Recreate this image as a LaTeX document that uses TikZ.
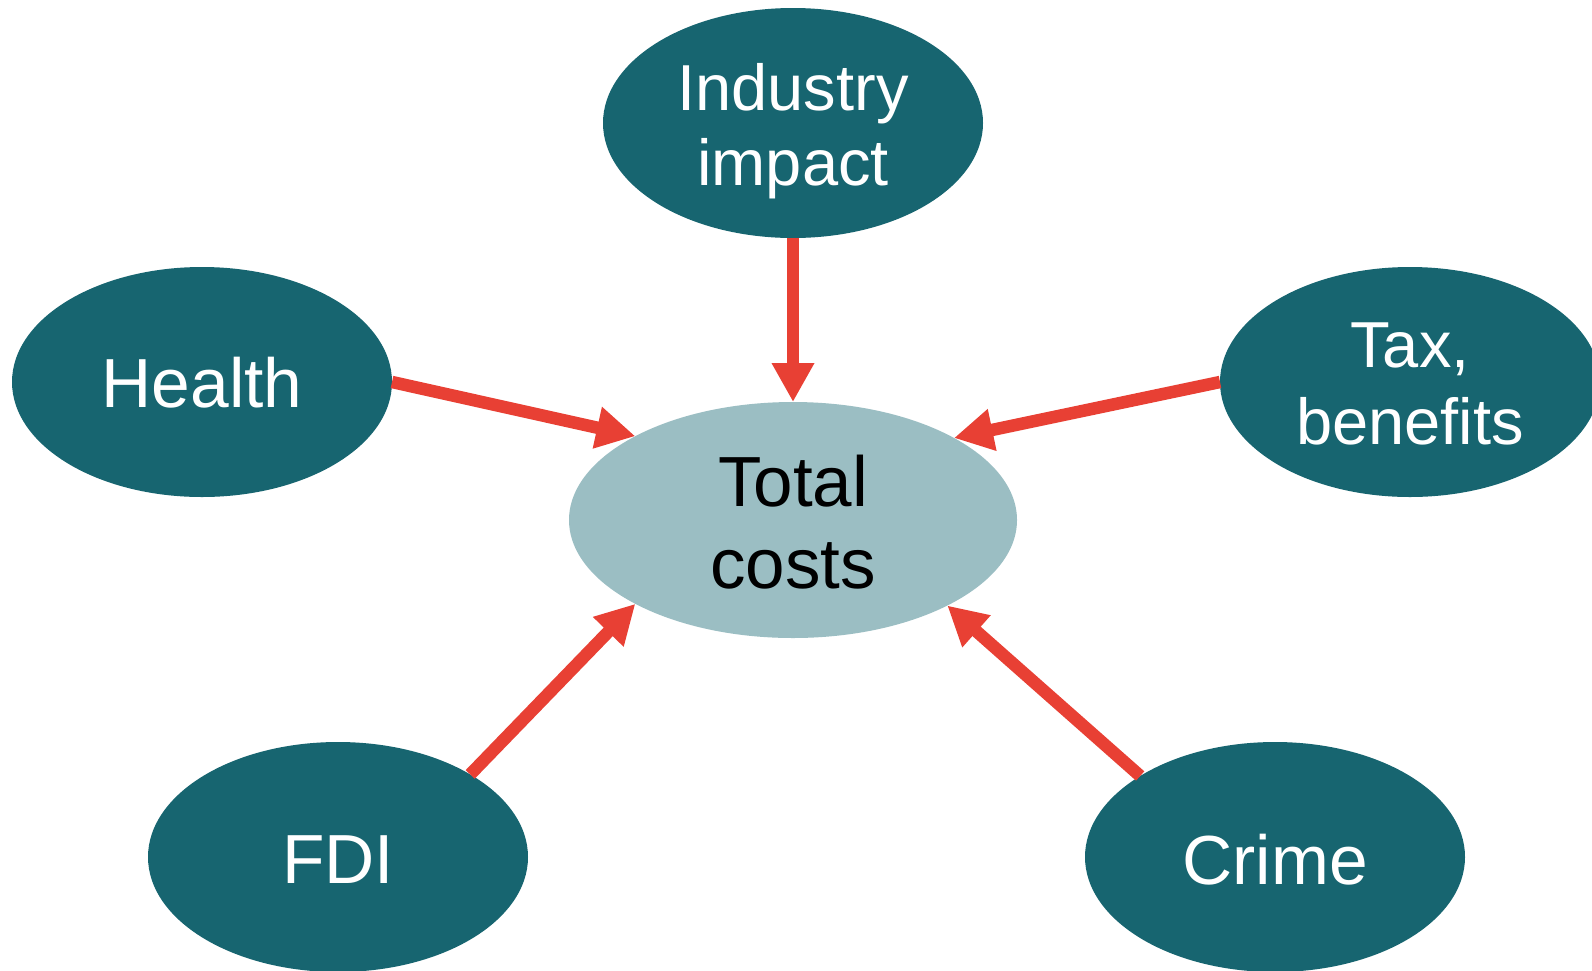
\documentclass[tikz,border=0pt]{standalone}
\usepackage{fontspec}
\setmainfont{Liberation Sans}
\usetikzlibrary{shapes.geometric,arrows.meta}

\definecolor{tealdark}{HTML}{176570}
\definecolor{teallight}{HTML}{9BBEC3}
\definecolor{arrowred}{HTML}{E84034}

\tikzset{
  factor/.style={ellipse, fill=tealdark, inner sep=0pt, outer sep=0pt,
                 minimum width=380pt, minimum height=230pt},
  hub/.style={ellipse, fill=teallight, inner sep=0pt, outer sep=0pt,
              minimum width=448pt, minimum height=236pt},
  lbl/.style={anchor=base, inner sep=0pt, text=white},
  hublbl/.style={anchor=base, inner sep=0pt, text=black},
  feed/.style={draw=arrowred, line width=12.5pt,
               -{Triangle[length=39pt,width=40pt]}}
}

\begin{document}
\begin{tikzpicture}[x=1pt,y=-1pt]
  \clip (0,0) rectangle (1592,970);
  \fill[white] (0,0) rectangle (1592,970);

  % ellipses
  \node[hub]    (tot) at (793,520) {};
  \node[factor] (ind) at (793,123) {};
  \node[factor] (hea) at (202,382) {};
  \node[factor] (tax) at (1410,382) {};
  \node[factor] (fdi) at (338,857) {};
  \node[factor] (cri) at (1275,857) {};

  % labels (anchored at the baseline of the last line)
  \node[hublbl, font=\fontsize{71}{82}\selectfont] (tot-t) at ([yshift=-68pt]tot.center)
    {\begin{tabular}[b]{@{}c@{}}Total\\costs\end{tabular}};
  \node[lbl, font=\fontsize{65}{75}\selectfont] (ind-t) at ([yshift=-62pt]ind.center)
    {\begin{tabular}[b]{@{}c@{}}Industry\\impact\end{tabular}};
  \node[lbl, font=\fontsize{65}{77}\selectfont] (tax-t) at ([yshift=-62pt]tax.center)
    {\begin{tabular}[b]{@{}c@{}}Tax,\\benefits\end{tabular}};
  \node[lbl, font=\fontsize{69.5}{80}\selectfont] (hea-t) at ([yshift=-25pt]hea.center) {Health};
  \node[lbl, font=\fontsize{69.5}{80}\selectfont] (fdi-t) at ([yshift=-26pt]fdi.center) {FDI};
  \node[lbl, font=\fontsize{69.5}{80}\selectfont] (cri-t) at ([yshift=-27pt]cri.center) {Crime};

  % arrows into the total
  \draw[feed] (ind.south) -- (tot.north);
  \draw[feed] (hea.east) -- (tot.152.6);
  \draw[feed] (tax.west) -- (tot.27.6);
  \draw[feed] (fdi.32.5) -- (tot.208.1);
  \draw[feed] (cri.149.7) -- (tot.331.9);
\end{tikzpicture}
\end{document}
